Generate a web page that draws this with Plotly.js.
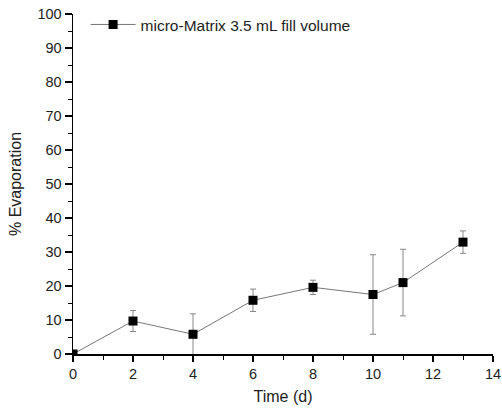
<!DOCTYPE html>
<html><head><meta charset="utf-8">
<script src="https://cdn.plot.ly/plotly-3.0.1.min.js"></script>
<style>html,body{margin:0;padding:0;background:#fff}#c{width:502px;height:412px}</style>
</head><body><div id="c"></div>
<script>
const timeDays = [0, 2, 4, 6, 8, 10, 11, 13];
const evaporation = [0, 9.7, 5.8, 15.8, 19.6, 17.5, 21.0, 32.9];
const errorSD = [0, 3.1, 6.0, 3.3, 2.1, 11.7, 9.8, 3.3];
const seriesName = "micro-Matrix 3.5 mL fill volume";

const FONT = 'Liberation Sans, Arial, Helvetica, sans-serif';
const trace = {
  x: timeDays, y: evaporation, name: seriesName,
  type: 'scatter', mode: 'lines+markers',
  line: {color: '#777', width: 1},
  marker: {symbol: 'square', size: 9, color: '#000'},
  error_y: {type: 'data', array: errorSD, visible: true, color: '#888', thickness: 1, width: 3}
};
const axisFont = {family: FONT, size: 14.5, color: '#222'};
const layout = {
  width: 502, height: 412,
  margin: {l: 73, r: 9, t: 13, b: 58},
  paper_bgcolor: '#fff', plot_bgcolor: '#fff',
  showlegend: true,
  legend: {x: 0.03, y: 1.015, xanchor: 'left', yanchor: 'top', bgcolor: 'rgba(0,0,0,0)',
    itemwidth: 45,
    font: {family: FONT, size: 15.5, color: '#222'}},
  xaxis: {
    range: [0, 14], dtick: 2, tick0: 0, showgrid: false, zeroline: false,
    showline: true, linecolor: '#000', linewidth: 1.5,
    ticks: 'outside', ticklen: 6, tickcolor: '#000', tickwidth: 1.5,
    tickfont: axisFont, ticklabeloverflow: 'allow',
    minor: {dtick: 1, ticks: 'outside', ticklen: 4, tickcolor: '#000', tickwidth: 1},
    title: {text: 'Time (d)', font: {family: FONT, size: 16, color: '#222'}, standoff: 10}
  },
  yaxis: {
    range: [0, 100], dtick: 10, tick0: 0, showgrid: false, zeroline: false,
    showline: true, linecolor: '#000', linewidth: 1.5,
    ticks: 'outside', ticklen: 7, tickcolor: '#000', tickwidth: 1.5,
    tickfont: axisFont, ticklabeloverflow: 'allow',
    minor: {dtick: 5, ticks: 'outside', ticklen: 4, tickcolor: '#000', tickwidth: 1},
    title: {text: '% Evaporation', font: {family: FONT, size: 16, color: '#222'}, standoff: 12}
  }
};
Plotly.newPlot('c', [trace], layout, {displayModeBar: false, staticPlot: true});
</script></body></html>
